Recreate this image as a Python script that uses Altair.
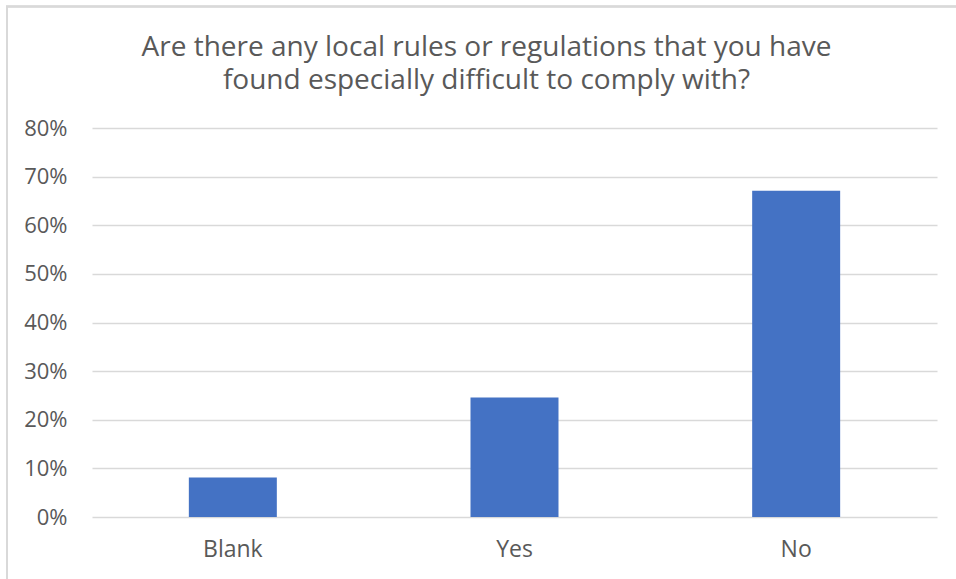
import altair as alt
import pandas as pd

categories = ["Blank", "Yes", "No"]
shares = [0.081, 0.246, 0.671]
title_lines = ["Are there any local rules or regulations that you have",
               "found especially difficult to comply with?"]

df = pd.DataFrame({"answer": categories, "share": shares})

FONT = "Open Sans"
GRAY = "#595959"

bars = alt.Chart(df).mark_bar(color="#4472C4", clip=False).encode(
    x=alt.X("answer:N", sort=categories, title=None,
            scale=alt.Scale(paddingInner=0.6876, paddingOuter=0.3438),
            axis=alt.Axis(labelAngle=0, labelFontSize=23, labelColor=GRAY,
                          labelFont=FONT, labelPadding=21, ticks=False,
                          domain=False, grid=False)),
    y=alt.Y("share:Q", title=None,
            scale=alt.Scale(domain=[0, 0.8], nice=False),
            axis=alt.Axis(format=".0%", values=[0, 0.1, 0.2, 0.3, 0.4, 0.5, 0.6, 0.7, 0.8],
                          labelFontSize=22, labelColor=GRAY, labelFont=FONT,
                          labelPadding=25, ticks=False, domain=False,
                          grid=True, gridColor="#d9d9d9", gridWidth=1.5)),
)

frame = alt.Chart(df).mark_rect(fill=None, stroke="#d9d9d9", strokeWidth=2, clip=False).encode(
    x=alt.value(-85), x2=alt.value(873), y=alt.value(-121.5), y2=alt.value(470)
)

chart = alt.layer(frame, bars).properties(
    width=845,
    height=389,
    background="white",
    padding={"left": 92, "top": 128, "right": 19, "bottom": 62},
    autosize=alt.AutoSizeParams(type="none"),
    title=alt.Title(title_lines, fontSize=28, font=FONT, color=GRAY, fontWeight="normal",
                    anchor="middle", frame="group", dx=-28, offset=-89, lineHeight=33),
).configure_view(strokeWidth=0)

chart.save("out.html", embed_options={"renderer": "svg", "actions": False})
